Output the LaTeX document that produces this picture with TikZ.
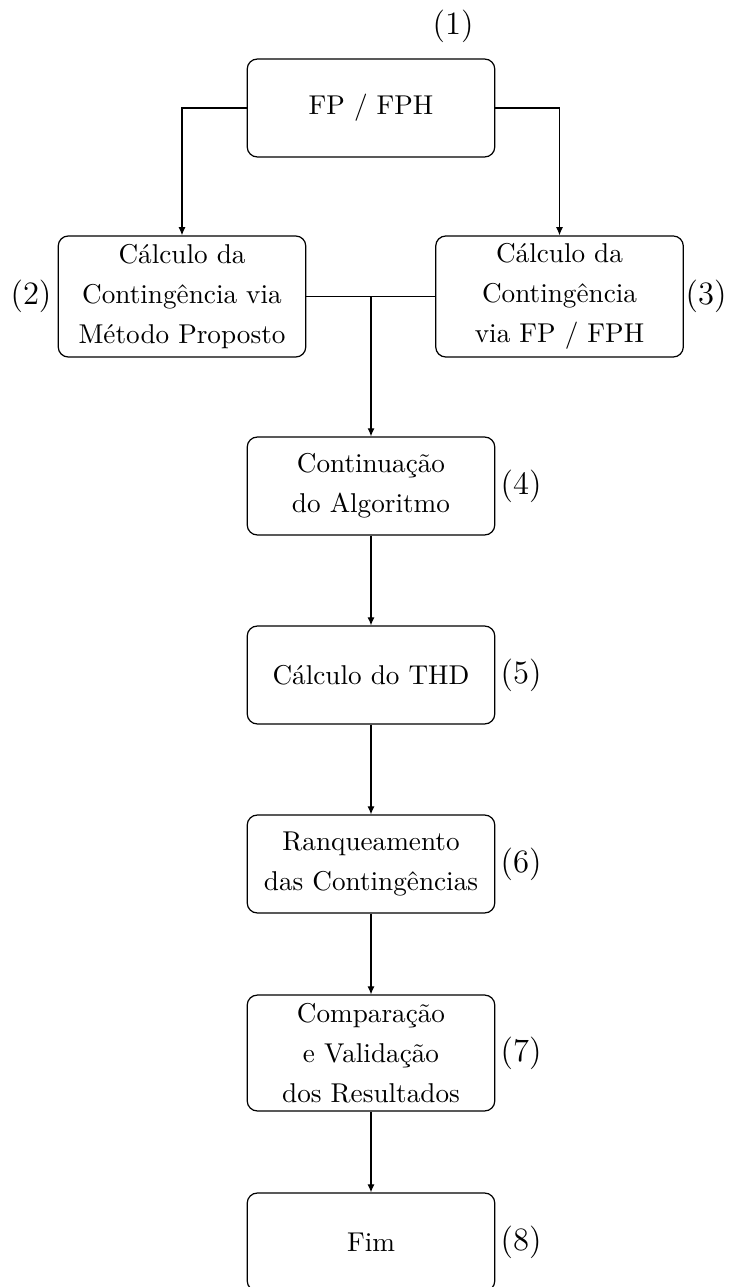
\documentclass[tikz,border=0pt]{standalone}
\usepackage{fontspec}
\usetikzlibrary{arrows.meta}
\begin{document}
\begin{tikzpicture}[x=0.3676pt,y=-0.3676pt,
  stage/.style={draw, rounded corners=3.7pt, line width=0.45pt, align=center,
    minimum width=91pt, minimum height=36pt, inner sep=0pt,
    font=\fontsize{10}{14.7}\selectfont},
  tall/.style={minimum height=44.5pt},
  mid/.style={minimum height=42.6pt},
  tag/.style={font=\large, inner sep=0pt},
  link/.style={line width=0.45pt},
  arr/.style={link, -{Latex[length=3pt,width=2.6pt]}}]
\useasboundingbox (0,0) rectangle (731,1287);

% process stages
\node[stage]       (n1) at (371,108)   {FP / FPH};
\node[stage, tall] (n2) at (182,296.5) {Cálculo da\\Contingência via\\Método Proposto};
\node[stage, tall] (n3) at (559.5,296.5) {Cálculo da\\Contingência\\via FP / FPH};
\node[stage]       (n4) at (371,486)   {Continuação\\do Algoritmo};
\node[stage]       (n5) at (371,675)   {Cálculo do THD};
\node[stage]       (n6) at (371,864)   {Ranqueamento\\das Contingências};
\node[stage, mid]  (n7) at (371,1053)  {Comparação\\e Validação\\dos Resultados};
\node[stage]       (n8) at (371,1242)  {Fim};

% step numbers
\node[tag] (t1) at (453,26)   {(1)};
\node[tag] (t2) at (31,296.5) {(2)};
\node[tag] (t3) at (706,296.5){(3)};
\node[tag] (t4) at (521,486)  {(4)};
\node[tag] (t5) at (521,675)  {(5)};
\node[tag] (t6) at (521,864)  {(6)};
\node[tag] (t7) at (521,1053) {(7)};
\node[tag] (t8) at (521,1242) {(8)};

% connectors
\draw[arr] (n1.west) -| (n2.north);
\draw[arr] (n1.east) -| (n3.north);
\draw[link] (n2.east) -- (n3.west);
\coordinate (j) at (n2.east -| n4.north);
\draw[arr] (j) -- (n4.north);
\draw[arr] (n4) -- (n5);
\draw[arr] (n5) -- (n6);
\draw[arr] (n6) -- (n7);
\draw[arr] (n7) -- (n8);
\end{tikzpicture}
\end{document}
